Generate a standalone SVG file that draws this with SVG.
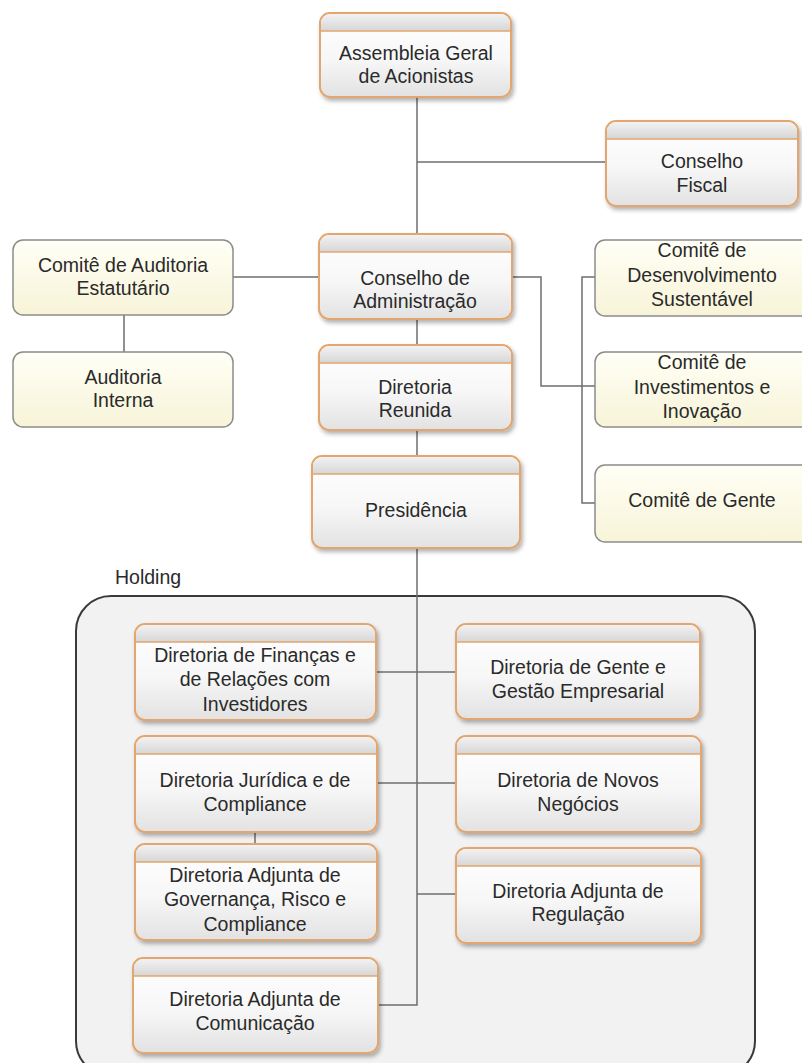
<svg xmlns="http://www.w3.org/2000/svg" width="802" height="1063" viewBox="0 0 802 1063">
<defs>
<linearGradient id="gb" x1="0" y1="0" x2="0" y2="1"><stop offset="0" stop-color="#ffffff"/><stop offset="0.55" stop-color="#f7f7f7"/><stop offset="1" stop-color="#e2e2e2"/></linearGradient>
<linearGradient id="gh" x1="0" y1="0" x2="0" y2="1"><stop offset="0" stop-color="#f2f2f2"/><stop offset="1" stop-color="#d6d6d6"/></linearGradient>
<linearGradient id="gy" x1="0" y1="0" x2="0" y2="1"><stop offset="0" stop-color="#fffff6"/><stop offset="1" stop-color="#f7f4d8"/></linearGradient>
<filter id="sh" x="-10%" y="-10%" width="125%" height="130%"><feDropShadow dx="2" dy="3" stdDeviation="2" flood-color="#000" flood-opacity="0.3"/></filter>
<style>
.ob{fill:url(#gb);stroke:#e3a66e;stroke-width:2;filter:url(#sh)}
.hd{fill:url(#gh);stroke:none}
.hl{stroke:#e3a66e;stroke-width:1.5}
.yb{fill:url(#gy);stroke:#8c8c8c;stroke-width:1.5}
.t{font-family:"Liberation Sans",Arial,sans-serif;font-size:19.5px;fill:#2a2a2a;text-anchor:middle}
.c{fill:none;stroke:#6e6e6e;stroke-width:1.5}
</style>
</defs>
<rect width="802" height="1063" fill="#ffffff"/>
<g id="holding">
<rect x="76" y="596" width="679" height="480" rx="35" fill="#f2f2f2" stroke="#3a3a3a" stroke-width="2"/>
<text x="115" y="584" class="t" style="text-anchor:start">Holding</text>
</g>
<g id="connectors">
<path class="c" d="M417 97V234"/>
<path class="c" d="M417 162H606"/>
<path class="c" d="M233 277H319"/>
<path class="c" d="M124 315V352"/>
<path class="c" d="M512 277H541V386H595"/>
<path class="c" d="M595 277H582V503H595"/>
<path class="c" d="M417 319V345"/>
<path class="c" d="M417 430V456"/>
<path class="c" d="M417 548V1005H378"/>
<path class="c" d="M376 672H456"/>
<path class="c" d="M377 783H456"/>
<path class="c" d="M417 894H456"/>
<path class="c" d="M255 832V844"/>
</g>
<g id="assembleia">
<rect class="ob" x="320" y="13" width="191" height="84" rx="10"/>
<path class="hd" d="M321 31V23A9 9 0 0 1 330 14H501A9 9 0 0 1 510 23V31Z"/>
<line class="hl" x1="320" y1="31" x2="511" y2="31"/>
<text class="t" x="416" y="60">Assembleia Geral</text>
<text class="t" x="416" y="83">de Acionistas</text>
</g>
<g id="fiscal">
<rect class="ob" x="606" y="121" width="192" height="85" rx="10"/>
<path class="hd" d="M607 139V131A9 9 0 0 1 616 122H788A9 9 0 0 1 797 131V139Z"/>
<line class="hl" x1="606" y1="139" x2="798" y2="139"/>
<text class="t" x="702" y="168">Conselho</text>
<text class="t" x="702" y="192">Fiscal</text>
</g>
<g id="comite-auditoria">
<rect class="yb" x="13" y="240" width="220" height="75" rx="10"/>
<text class="t" x="123" y="272">Comitê de Auditoria</text>
<text class="t" x="123" y="295">Estatutário</text>
</g>
<g id="auditoria-interna">
<rect class="yb" x="13" y="352" width="220" height="75" rx="10"/>
<text class="t" x="123" y="384">Auditoria</text>
<text class="t" x="123" y="407">Interna</text>
</g>
<g id="conselho-admin">
<rect class="ob" x="319" y="234" width="193" height="85" rx="10"/>
<path class="hd" d="M320 252V244A9 9 0 0 1 329 235H502A9 9 0 0 1 511 244V252Z"/>
<line class="hl" x1="319" y1="252" x2="512" y2="252"/>
<text class="t" x="415" y="285">Conselho de</text>
<text class="t" x="415" y="308">Administração</text>
</g>
<g id="diretoria-reunida">
<rect class="ob" x="319" y="345" width="193" height="85" rx="10"/>
<path class="hd" d="M320 363V355A9 9 0 0 1 329 346H502A9 9 0 0 1 511 355V363Z"/>
<line class="hl" x1="319" y1="363" x2="512" y2="363"/>
<text class="t" x="415" y="394">Diretoria</text>
<text class="t" x="415" y="417">Reunida</text>
</g>
<g id="comite-ds">
<rect class="yb" x="595" y="240" width="222" height="76" rx="10"/>
<text class="t" x="702" y="257">Comitê de</text>
<text class="t" x="702" y="282">Desenvolvimento</text>
<text class="t" x="702" y="306">Sustentável</text>
</g>
<g id="comite-inv">
<rect class="yb" x="595" y="352" width="222" height="75" rx="10"/>
<text class="t" x="702" y="369">Comitê de</text>
<text class="t" x="702" y="394">Investimentos e</text>
<text class="t" x="702" y="418">Inovação</text>
</g>
<g id="comite-gente">
<rect class="yb" x="595" y="465" width="222" height="77" rx="10"/>
<text class="t" x="702" y="507">Comitê de Gente</text>
</g>
<g id="presidencia">
<rect class="ob" x="312" y="456" width="208" height="92" rx="10"/>
<path class="hd" d="M313 474V466A9 9 0 0 1 322 457H510A9 9 0 0 1 519 466V474Z"/>
<line class="hl" x1="312" y1="474" x2="520" y2="474"/>
<text class="t" x="416" y="517">Presidência</text>
</g>
<g id="financas">
<rect class="ob" x="135" y="624" width="241" height="96" rx="10"/>
<path class="hd" d="M136 642V634A9 9 0 0 1 145 625H366A9 9 0 0 1 375 634V642Z"/>
<line class="hl" x1="135" y1="642" x2="376" y2="642"/>
<text class="t" x="255" y="662">Diretoria de Finanças e</text>
<text class="t" x="255" y="686">de Relações com</text>
<text class="t" x="255" y="711">Investidores</text>
</g>
<g id="gente">
<rect class="ob" x="456" y="624" width="244" height="95" rx="10"/>
<path class="hd" d="M457 642V634A9 9 0 0 1 466 625H690A9 9 0 0 1 699 634V642Z"/>
<line class="hl" x1="456" y1="642" x2="700" y2="642"/>
<text class="t" x="578" y="674">Diretoria de Gente e</text>
<text class="t" x="578" y="698">Gestão Empresarial</text>
</g>
<g id="juridica">
<rect class="ob" x="135" y="736" width="242" height="96" rx="10"/>
<path class="hd" d="M136 754V746A9 9 0 0 1 145 737H367A9 9 0 0 1 376 746V754Z"/>
<line class="hl" x1="135" y1="754" x2="377" y2="754"/>
<text class="t" x="255" y="787">Diretoria Jurídica e de</text>
<text class="t" x="255" y="811">Compliance</text>
</g>
<g id="novos-negocios">
<rect class="ob" x="456" y="736" width="245" height="96" rx="10"/>
<path class="hd" d="M457 754V746A9 9 0 0 1 466 737H691A9 9 0 0 1 700 746V754Z"/>
<line class="hl" x1="456" y1="754" x2="701" y2="754"/>
<text class="t" x="578" y="787">Diretoria de Novos</text>
<text class="t" x="578" y="811">Negócios</text>
</g>
<g id="governanca">
<rect class="ob" x="135" y="844" width="242" height="96" rx="10"/>
<path class="hd" d="M136 862V854A9 9 0 0 1 145 845H367A9 9 0 0 1 376 854V862Z"/>
<line class="hl" x1="135" y1="862" x2="377" y2="862"/>
<text class="t" x="255" y="882">Diretoria Adjunta de</text>
<text class="t" x="255" y="906">Governança, Risco e</text>
<text class="t" x="255" y="931">Compliance</text>
</g>
<g id="regulacao">
<rect class="ob" x="456" y="848" width="245" height="95" rx="10"/>
<path class="hd" d="M457 866V858A9 9 0 0 1 466 849H691A9 9 0 0 1 700 858V866Z"/>
<line class="hl" x1="456" y1="866" x2="701" y2="866"/>
<text class="t" x="578" y="898">Diretoria Adjunta de</text>
<text class="t" x="578" y="921">Regulação</text>
</g>
<g id="comunicacao">
<rect class="ob" x="133" y="958" width="245" height="95" rx="10"/>
<path class="hd" d="M134 976V968A9 9 0 0 1 143 959H368A9 9 0 0 1 377 968V976Z"/>
<line class="hl" x1="133" y1="976" x2="378" y2="976"/>
<text class="t" x="255" y="1006">Diretoria Adjunta de</text>
<text class="t" x="255" y="1030">Comunicação</text>
</g>
</svg>
